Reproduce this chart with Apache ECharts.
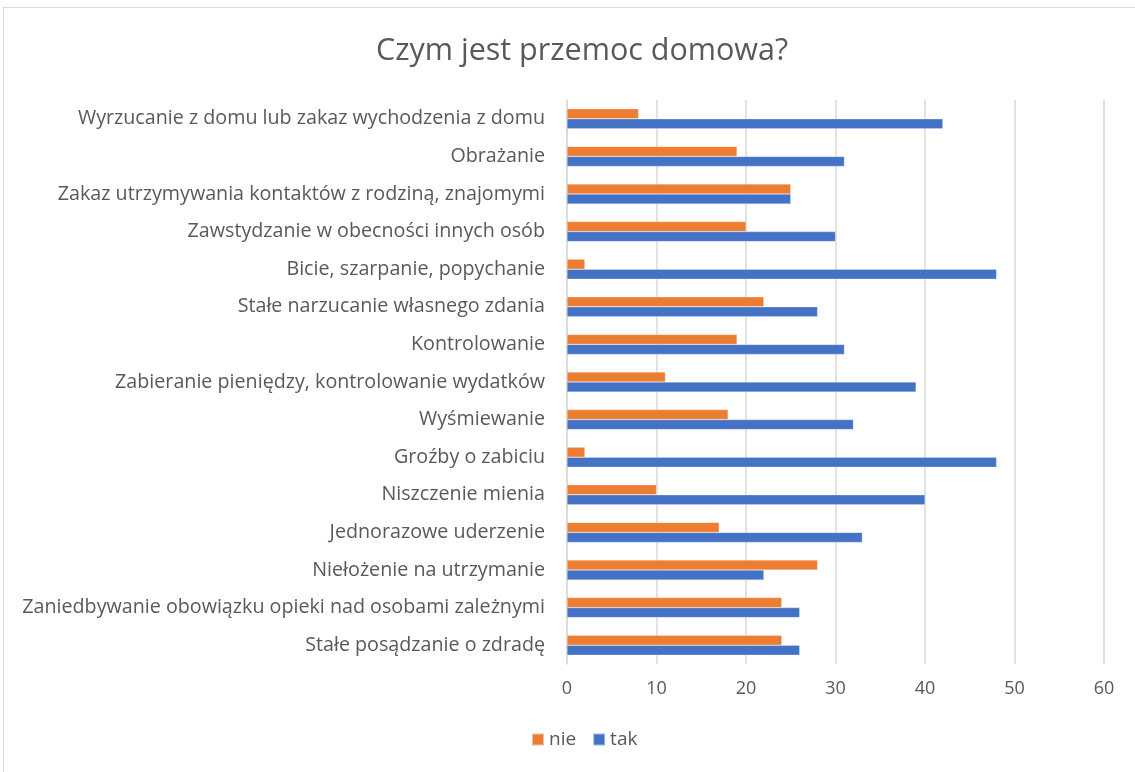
<!DOCTYPE html>
<html><head><meta charset="utf-8">
<script src="https://cdn.jsdelivr.net/npm/echarts@6/dist/echarts.min.js"></script>
<style>
html,body{margin:0;padding:0;background:#fff;}
#frame{position:absolute;left:3px;top:7px;width:1140px;height:770px;border:1px solid #d9d9d9;box-sizing:border-box;}
#c{position:absolute;left:0;top:0;width:1135px;height:772px;}
</style></head><body>
<div id="frame"></div>
<div id="c"></div>
<script>
const categories = [
  "Wyrzucanie z domu lub zakaz wychodzenia z domu",
  "Obrażanie",
  "Zakaz utrzymywania kontaktów z rodziną, znajomymi",
  "Zawstydzanie w obecności innych osób",
  "Bicie, szarpanie, popychanie",
  "Stałe narzucanie własnego zdania",
  "Kontrolowanie",
  "Zabieranie pieniędzy, kontrolowanie wydatków",
  "Wyśmiewanie",
  "Groźby o zabiciu",
  "Niszczenie mienia",
  "Jednorazowe uderzenie",
  "Niełożenie na utrzymanie",
  "Zaniedbywanie obowiązku opieki nad osobami zależnymi",
  "Stałe posądzanie o zdradę"
];
const nieValues = [8, 19, 25, 20, 2, 22, 19, 11, 18, 2, 10, 17, 28, 24, 24];
const takValues = [42, 31, 25, 30, 48, 28, 31, 39, 32, 48, 40, 33, 22, 26, 26];
const xTicks = [0, 10, 20, 30, 40, 50, 60];

const FONT = "Open Sans";
const chart = echarts.init(document.getElementById('c'));
chart.setOption({
  animation: false,
  title: {
    text: "Czym jest przemoc domowa?",
    left: 371, top: 31,
    textStyle: {fontFamily: FONT, fontWeight: 'normal', fontSize: 30.5, color: '#595959'}
  },
  legend: {
    data: ['nie', 'tak'],
    left: 526, bottom: 18,
    itemWidth: 12, itemHeight: 12, itemGap: 16,
    icon: 'rect',
    textStyle: {fontFamily: FONT, fontSize: 19, color: '#595959'}
  },
  grid: {left: 567, right: 31, top: 100, bottom: 108, containLabel: false},
  xAxis: {
    type: 'value', min: xTicks[0], max: xTicks[xTicks.length - 1], interval: 10,
    axisLine: {show: false}, axisTick: {show: false},
    axisLabel: {fontFamily: FONT, fontSize: 18, color: '#595959', margin: 16},
    splitLine: {lineStyle: {color: '#d9d9d9', width: 1.5}}
  },
  yAxis: {
    type: 'category', data: categories, inverse: true,
    axisLine: {show: true, lineStyle: {color: '#d9d9d9', width: 1.5}},
    axisTick: {show: false},
    axisLabel: {fontFamily: FONT, fontSize: 19.7, color: '#595959', margin: 22}
  },
  series: [
    {name: 'nie', type: 'bar', data: nieValues, barWidth: 10, barGap: '0%',
     itemStyle: {color: '#ED7D31', borderColor: 'rgba(255,255,255,0.5)', borderWidth: 0.5}},
    {name: 'tak', type: 'bar', data: takValues, barWidth: 10, barGap: '0%',
     itemStyle: {color: '#4472C4', borderColor: 'rgba(255,255,255,0.5)', borderWidth: 0.5}}
  ]
});
</script>
</body></html>
